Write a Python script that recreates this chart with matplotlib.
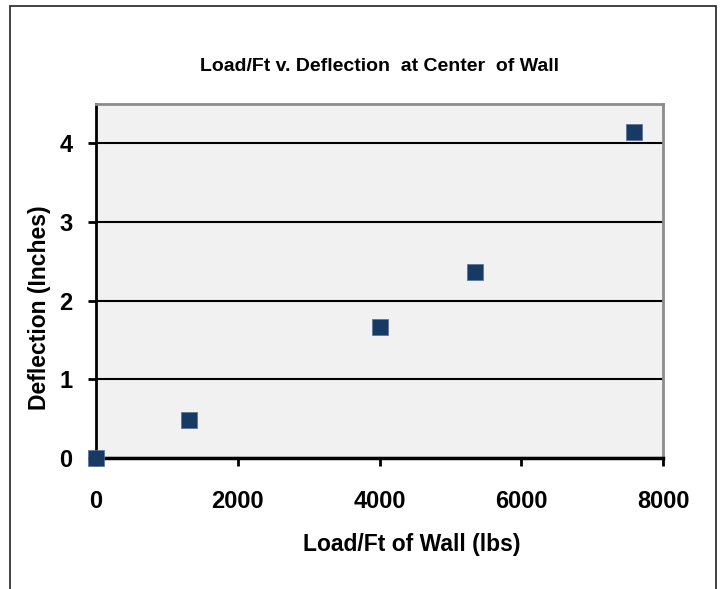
import matplotlib.pyplot as plt
from matplotlib.patches import Rectangle

# Data
load_per_ft = [0, 1310, 4010, 5350, 7590]      # lbs
deflection = [0.0, 0.48, 1.67, 2.36, 4.14]     # inches
x_ticks = [0, 2000, 4000, 6000, 8000]
y_ticks = [0, 1, 2, 3, 4]

plt.rcParams['font.family'] = ['Liberation Sans', 'DejaVu Sans']

fig = plt.figure(figsize=(7.23, 5.89), dpi=100)
ax = fig.add_axes([96 / 723, 1 - 458 / 589, 567 / 723, 354 / 589])

# outer chart frame (bottom edge runs off the image)
fig.patches.append(Rectangle((10 / 723, -0.05), 706 / 723, 1.04 - 6 / 589 + 0.01,
                             transform=fig.transFigure, fill=False,
                             edgecolor='#222222', linewidth=1.2))

ax.set_facecolor('#f1f1f1')
ax.scatter(load_per_ft, deflection, marker='s', s=140, color='#173a64',
           edgecolors='#5a7090', linewidths=0.5, zorder=3, clip_on=False)

ax.set_xlim(0, 8000)
ax.set_ylim(0, 4.5)
ax.set_xticks(x_ticks)
ax.set_yticks(y_ticks)
ax.tick_params(axis='both', labelsize=17, width=2, length=6, direction='out')
ax.tick_params(axis='x', pad=17)
ax.tick_params(axis='y', pad=11)
for lab in ax.get_xticklabels() + ax.get_yticklabels():
    lab.set_fontweight('heavy')

# horizontal gridlines only
ax.yaxis.grid(True, color='black', linewidth=1.5)
ax.set_axisbelow(True)

ax.spines['left'].set_color('black')
ax.spines['left'].set_linewidth(2)
ax.spines['bottom'].set_color('black')
ax.spines['bottom'].set_linewidth(2.5)
for side in ['top', 'right']:
    ax.spines[side].set_color('#8c8c8c')
    ax.spines[side].set_linewidth(2)

ax.set_title('Load/Ft v. Deflection  at Center  of Wall', fontsize=14,
             fontweight='heavy', pad=24)
ax.set_xlabel('Load/Ft of Wall (lbs)', fontsize=16.5, fontweight='heavy')
ax.set_ylabel('Deflection (Inches)', fontsize=16.5, fontweight='heavy')
ax.xaxis.set_label_coords((412 - 96) / 567, -(533 - 458) / 354)
ax.yaxis.set_label_coords(-(96 - 51) / 567, (458 - 308) / 354)

fig.savefig('out.png', dpi=100)
